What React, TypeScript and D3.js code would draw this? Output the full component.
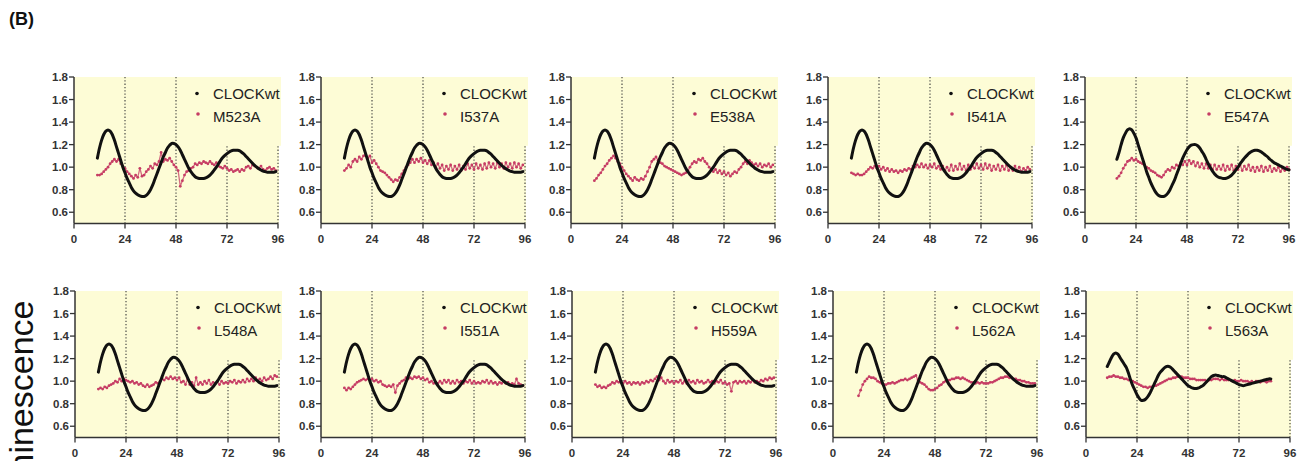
import React from "react";
import * as d3 from "d3";

// ---- data (hours, normalized luminescence) ----
const xTicks = [0, 24, 48, 72, 96];
const yTicks = [0.6, 0.8, 1.0, 1.2, 1.4, 1.6, 1.8];

// CLOCKwt reference trace (panels 1-4 of both rows), hourly from t=11
const clockWtAStart = 11;
const clockWtA = [1.08, 1.17, 1.24, 1.29, 1.32, 1.33, 1.32, 1.29, 1.24, 1.18, 1.12, 1.06, 1.0, 0.95, 0.9, 0.86, 0.82, 0.79, 0.77, 0.755, 0.745, 0.74, 0.74, 0.75, 0.77, 0.8, 0.84, 0.89, 0.94, 0.99, 1.04, 1.09, 1.13, 1.17, 1.195, 1.21, 1.21, 1.2, 1.18, 1.15, 1.11, 1.07, 1.03, 0.99, 0.96, 0.935, 0.915, 0.905, 0.9, 0.9, 0.9, 0.905, 0.915, 0.93, 0.95, 0.975, 1.0, 1.03, 1.06, 1.085, 1.105, 1.12, 1.135, 1.145, 1.15, 1.15, 1.15, 1.145, 1.13, 1.115, 1.095, 1.075, 1.055, 1.035, 1.015, 1.0, 0.985, 0.975, 0.965, 0.96, 0.955, 0.955, 0.955, 0.955, 0.96];
// CLOCKwt trace of the E547A panel, hourly from t=15
const clockWtBStart = 15;
const clockWtB = [1.07, 1.13, 1.2, 1.26, 1.3, 1.33, 1.34, 1.33, 1.3, 1.26, 1.2, 1.14, 1.08, 1.02, 0.96, 0.91, 0.86, 0.82, 0.785, 0.76, 0.745, 0.74, 0.74, 0.75, 0.77, 0.8, 0.84, 0.88, 0.93, 0.98, 1.03, 1.08, 1.12, 1.155, 1.18, 1.195, 1.2, 1.2, 1.19, 1.17, 1.14, 1.11, 1.07, 1.03, 0.995, 0.965, 0.94, 0.92, 0.91, 0.905, 0.9, 0.9, 0.905, 0.915, 0.93, 0.95, 0.975, 1.0, 1.03, 1.055, 1.08, 1.1, 1.12, 1.135, 1.145, 1.15, 1.15, 1.145, 1.135, 1.12, 1.105, 1.09, 1.07, 1.055, 1.04, 1.03, 1.02, 1.01, 1.0, 0.99, 0.98, 0.975];
// CLOCKwt trace of the L563A panel, hourly from t=10
const clockWtCStart = 10;
const clockWtC = [1.13, 1.17, 1.21, 1.24, 1.25, 1.24, 1.21, 1.18, 1.15, 1.12, 1.07, 1.01, 0.96, 0.92, 0.88, 0.85, 0.83, 0.83, 0.84, 0.86, 0.89, 0.93, 0.97, 1.01, 1.05, 1.08, 1.1, 1.12, 1.13, 1.13, 1.12, 1.1, 1.08, 1.06, 1.04, 1.02, 1.0, 0.98, 0.96, 0.95, 0.94, 0.935, 0.935, 0.94, 0.95, 0.96, 0.98, 1.0, 1.02, 1.04, 1.05, 1.055, 1.05, 1.045, 1.04, 1.04, 1.03, 1.02, 1.01, 1.0, 0.99, 0.98, 0.97, 0.965, 0.96, 0.965, 0.97, 0.975, 0.98, 0.985, 0.99, 0.995, 1.0, 1.005, 1.01, 1.015, 1.02, 1.02];

// mutants
const m523aStart = 11;
const m523a = [0.93, 0.93, 0.94, 0.96, 0.98, 1.0, 1.03, 1.05, 1.07, 1.05, 1.07, 1.03, 1.01, 0.99, 0.96, 0.94, 0.92, 0.9, 0.93, 0.91, 0.99, 0.92, 0.93, 0.96, 0.98, 1.01, 0.99, 1.03, 1.02, 1.05, 1.13, 1.05, 1.07, 1.06, 1.08, 1.05, 1.02, 1.0, 0.97, 0.83, 0.88, 0.93, 0.96, 0.97, 0.99, 1.0, 1.03, 1.02, 1.04, 1.03, 1.05, 1.04, 1.03, 1.05, 1.03, 1.02, 1.04, 1.01, 1.0, 0.99, 1.01, 0.99, 0.97, 0.98, 0.96, 0.97, 0.98, 0.96, 0.98, 0.97, 1.0, 1.01, 0.99, 1.02, 1.01, 1.0, 0.99, 1.01, 0.98, 0.97, 0.99, 1.0, 0.98, 0.99, 0.97];
const i537aStart = 11;
const i537a = [0.97, 0.99, 1.02, 1.0, 1.05, 1.07, 1.05, 1.09, 1.07, 1.1, 1.11, 1.08, 1.1, 1.04, 1.06, 1.03, 1.0, 0.97, 0.96, 0.95, 0.93, 0.91, 0.89, 0.87, 0.89, 0.88, 0.91, 0.94, 0.97, 1.0, 1.02, 1.04, 1.07, 1.04, 1.07, 1.05, 1.08, 1.04, 1.06, 1.03, 1.06, 1.02, 1.04, 1.0, 1.03, 0.99, 1.02, 0.97, 1.01, 0.98, 1.02, 0.97, 1.01, 0.98, 1.02, 0.97, 1.01, 0.98, 1.03, 0.99, 1.02, 0.98, 1.03, 0.99, 1.02, 0.98, 1.03, 0.99, 1.04, 1.0, 1.03, 0.99, 1.04, 1.0, 1.03, 0.99, 1.04, 1.0, 1.03, 0.99, 1.04, 1.0, 1.03, 0.99, 1.02];
const e538aStart = 11;
const e538a = [0.88, 0.9, 0.93, 0.95, 0.98, 1.01, 1.03, 1.06, 1.08, 1.1, 1.08, 1.05, 1.03, 1.0, 0.97, 0.94, 0.92, 0.9, 0.88, 0.91, 0.89, 0.88, 0.9, 0.89, 0.92, 0.96, 1.0, 1.05, 1.07, 1.09, 1.06, 1.04, 1.03, 1.01, 1.0, 0.99, 0.98, 0.97, 0.96, 0.95, 0.94, 0.93, 0.94, 0.95, 0.97, 1.0, 1.03, 1.05, 1.04, 1.07, 1.06, 1.08, 1.05, 1.03, 1.0, 0.98, 0.96, 0.98, 0.95, 0.97, 0.94, 0.96, 0.93, 0.95, 0.92, 0.94, 0.96, 0.95, 0.98, 1.0, 1.03, 1.05, 1.03, 1.06, 1.04, 1.02, 1.03, 1.01, 1.03, 1.0, 1.02, 1.01, 1.03, 1.0, 1.02];
const i541aStart = 11;
const i541a = [0.95, 0.94, 0.93, 0.94, 0.93, 0.93, 0.94, 0.96, 0.98, 1.0, 0.99, 1.01, 0.99, 1.01, 0.98, 1.0, 0.97, 0.99, 0.96, 0.98, 0.96, 0.97, 0.95, 0.97, 0.96, 0.98, 0.97, 0.99, 0.98, 1.01, 1.0, 1.02, 1.0, 1.03, 1.0, 1.02, 0.99, 1.02, 1.0, 1.03, 0.99, 1.01, 0.98, 1.01, 0.97, 1.0, 0.97, 1.02, 0.97, 1.01, 0.98, 1.03, 0.98, 1.01, 0.97, 1.02, 0.98, 1.01, 0.99, 1.03, 0.99, 1.02, 0.98, 1.03, 0.99, 1.02, 0.97, 1.01, 0.98, 1.02, 0.97, 1.01, 0.98, 1.02, 0.97, 1.0, 0.97, 1.01, 0.97, 1.0, 0.96, 0.99, 0.97, 1.0, 0.98];
const e547aStart = 15;
const e547a = [0.9, 0.92, 0.95, 0.99, 1.02, 1.05, 1.06, 1.08, 1.06, 1.07, 1.05, 1.04, 1.03, 1.02, 1.0, 0.99, 0.97, 0.96, 0.95, 0.93, 0.92, 0.91, 0.93, 0.96, 0.98, 0.97, 1.0, 0.99, 1.02, 1.01, 1.04, 1.02, 1.05, 1.02, 1.06, 1.03, 1.05, 1.01, 1.04, 1.0, 1.03, 0.99, 1.03, 0.99, 1.02, 0.98, 1.02, 0.98, 1.01, 0.98, 1.02, 0.97, 1.01, 0.98, 1.02, 0.97, 1.01, 0.98, 1.02, 0.97, 1.01, 0.98, 1.02, 0.97, 1.0, 0.96, 1.0, 0.97, 1.01, 0.96, 1.0, 0.97, 1.01, 0.96, 0.99, 0.97, 1.0, 0.96, 0.99, 0.97, 1.0, 0.98];
const l548aStart = 11;
const l548a = [0.93, 0.94, 0.93, 0.95, 0.94, 0.96, 0.97, 0.98, 1.0, 0.99, 1.02, 1.0, 1.02, 1.01, 1.0, 0.99, 1.0, 0.98, 0.99, 0.97, 0.98, 0.96, 0.95, 0.97, 0.95, 0.96, 0.97, 0.99, 0.98, 1.0, 1.02, 1.01, 1.03, 1.02, 1.04, 1.02, 1.03, 1.01, 1.03, 0.99, 1.0, 0.97, 1.02, 0.97, 0.99, 0.96, 1.03, 0.97, 0.99, 0.97, 1.0, 0.98, 1.01, 0.97, 0.99, 0.98, 1.0, 0.97, 1.0, 0.98, 0.99, 0.98, 1.0, 0.99, 1.01, 0.98, 1.0, 0.99, 1.01, 0.99, 1.02, 1.0, 1.02, 1.0, 1.03, 1.01, 1.02, 1.0, 1.03, 1.01, 1.02, 1.04, 1.02, 1.05, 1.04];
const i551aStart = 11;
const i551a = [0.94, 0.92, 0.94, 0.93, 0.95, 0.97, 0.99, 1.0, 1.01, 1.02, 1.01, 1.02, 1.01, 1.02, 1.0, 1.01, 0.99, 1.0, 0.97, 0.96, 0.95, 0.96, 0.95, 0.97, 0.9, 0.96, 0.98, 1.0, 1.01, 1.03, 1.02, 1.03, 1.02, 1.04, 1.03, 1.04, 1.02, 1.03, 1.01, 1.02, 0.99, 1.0, 0.98, 0.99, 0.98, 1.0, 0.98, 1.01, 0.99, 1.01, 0.98, 1.0, 0.98, 1.01, 0.99, 1.0, 0.98, 1.0, 0.99, 1.01, 0.98, 1.0, 0.98, 0.99, 0.98, 1.0, 0.99, 1.01, 0.98, 1.0, 0.98, 0.99, 0.97, 0.99, 0.98, 1.0, 0.98, 0.99, 0.97, 0.98, 0.97, 1.02, 0.98, 0.97, 0.96];
const h559aStart = 11;
const h559a = [0.97, 0.95, 0.96, 0.94, 0.95, 0.94, 0.96, 0.97, 0.99, 0.98, 1.0, 0.99, 1.0, 0.98, 1.0, 0.98, 0.99, 0.97, 0.99, 0.98, 0.99, 0.97, 0.99, 0.98, 1.0, 0.99, 1.01, 1.0, 1.02, 1.04, 1.01, 1.03, 1.0, 0.98, 1.01, 0.99, 1.0, 0.98, 1.0, 0.99, 1.01, 0.98, 1.0, 0.98, 1.01, 0.99, 1.0, 0.98, 1.01, 0.99, 1.0, 0.98, 0.99, 1.01, 0.99, 1.0, 0.98, 1.0, 0.99, 1.01, 0.98, 0.99, 0.97, 0.98, 0.91, 0.99, 1.0, 0.98, 1.0, 0.99, 1.0, 0.98, 1.0, 0.99, 1.01, 0.99, 1.0, 0.99, 1.01, 1.0, 1.02, 1.01, 1.03, 1.02, 1.03];
const l562aStart = 12;
const l562a = [0.87, 0.92, 0.97, 1.0, 1.02, 1.04, 1.03, 1.03, 1.02, 1.0, 0.99, 0.98, 0.97, 0.97, 0.98, 0.98, 0.99, 0.98, 0.99, 1.0, 1.01, 1.01, 1.02, 1.01, 1.02, 1.03, 1.04, 1.05, 1.01, 0.99, 0.98, 0.97, 0.95, 0.93, 0.92, 0.92, 0.93, 0.94, 0.96, 0.97, 0.99, 1.0, 1.01, 1.01, 1.02, 1.02, 1.03, 1.03, 1.02, 1.03, 1.02, 1.01, 1.0, 0.99, 0.99, 0.98, 0.99, 0.98, 0.99, 0.98, 0.98, 0.98, 0.99, 0.99, 1.0, 1.01, 1.02, 1.03, 1.03, 1.04, 1.04, 1.03, 1.03, 1.02, 1.02, 1.01, 1.01, 1.0, 1.0, 0.99, 0.99, 0.98, 0.98, 0.98];
const l563aStart = 10;
const l563a = [1.03, 1.04, 1.04, 1.05, 1.04, 1.04, 1.03, 1.03, 1.02, 1.02, 1.01, 1.01, 1.0, 0.99, 0.98, 0.97, 0.96, 0.95, 0.95, 0.94, 0.95, 0.95, 0.96, 0.96, 0.97, 0.98, 0.99, 1.0, 1.01, 1.02, 1.02, 1.03, 1.03, 1.04, 1.04, 1.04, 1.03, 1.03, 1.03, 1.02, 1.02, 1.02, 1.01, 1.01, 1.01, 1.01, 1.01, 1.0, 1.01, 1.01, 1.02, 1.02, 1.02, 1.01, 1.02, 1.01, 1.01, 1.01, 1.01, 1.0, 1.01, 1.0, 1.0, 1.01, 1.0, 1.0, 1.0, 0.99, 1.0, 0.99, 1.0, 1.0, 0.99, 1.0, 1.0, 0.99, 1.0, 1.0];

const mutantNames = ["M523A", "I537A", "E538A", "I541A", "E547A", "L548A", "I551A", "H559A", "L562A", "L563A"];

// ---- layout (pixels) ----
const W = 204;
const H = 146.5;
const rowTops = [77, 291];
const colLefts = [
  [74, 321, 571, 828, 1085],
  [75, 321, 572, 833, 1086],
];

const FONT = "'Liberation Sans', Arial, Helvetica, sans-serif";
const RED = "#c63c64";
const BLACK = "#111";
const BG = "#fdfcd6";

type Series = { start: number; values: number[] };
const toPoints = (s: Series) => s.values.map((v, i) => [s.start + i, v] as [number, number]);

const panels = [
  { name: mutantNames[0], wt: { start: clockWtAStart, values: clockWtA }, mut: { start: m523aStart, values: m523a } },
  { name: mutantNames[1], wt: { start: clockWtAStart, values: clockWtA }, mut: { start: i537aStart, values: i537a } },
  { name: mutantNames[2], wt: { start: clockWtAStart, values: clockWtA }, mut: { start: e538aStart, values: e538a } },
  { name: mutantNames[3], wt: { start: clockWtAStart, values: clockWtA }, mut: { start: i541aStart, values: i541a } },
  { name: mutantNames[4], wt: { start: clockWtBStart, values: clockWtB }, mut: { start: e547aStart, values: e547a } },
  { name: mutantNames[5], wt: { start: clockWtAStart, values: clockWtA }, mut: { start: l548aStart, values: l548a } },
  { name: mutantNames[6], wt: { start: clockWtAStart, values: clockWtA }, mut: { start: i551aStart, values: i551a } },
  { name: mutantNames[7], wt: { start: clockWtAStart, values: clockWtA }, mut: { start: h559aStart, values: h559a } },
  { name: mutantNames[8], wt: { start: clockWtAStart, values: clockWtA }, mut: { start: l562aStart, values: l562a } },
  { name: mutantNames[9], wt: { start: clockWtCStart, values: clockWtC }, mut: { start: l563aStart, values: l563a } },
];

function Panel({ idx }: { idx: number }) {
  const p = panels[idx];
  const row = Math.floor(idx / 5);
  const col = idx % 5;
  const left = colLefts[row][col];
  const top = rowTops[row];
  const x = d3.scaleLinear().domain([0, 96]).range([left, left + W]);
  const y = d3.scaleLinear().domain([0.5, 1.8]).range([top + H, top]);
  const wtPts = toPoints(p.wt);
  const mutPts = toPoints(p.mut);
  const wtLine = d3
    .line<[number, number]>()
    .x((d) => x(d[0]))
    .y((d) => y(d[1]))
    .curve(d3.curveCatmullRom);
  const mutLine = d3
    .line<[number, number]>()
    .x((d) => x(d[0]))
    .y((d) => y(d[1]));
  const legX = left + 123;
  return (
    <g>
      <rect x={x(0)} y={y(1.8)} width={x(96) - x(0) + 1} height={y(0.5) - y(1.8)} fill={BG} />
      {xTicks.slice(1).map((t) => (
        <line key={t} x1={x(t)} x2={x(t)} y1={y(1.8)} y2={y(0.5)} stroke="#3a3a3a" strokeWidth={1.1} strokeDasharray="1.3,2" />
      ))}
      <rect x={legX - 8} y={y(1.8)} width={x(96) - legX + 11} height={y(1.19) - y(1.8)} fill={BG} />
      <path d={mutLine(mutPts) || ""} fill="none" stroke={RED} strokeWidth={1.3} strokeOpacity={0.75} />
      {mutPts.map((d, i) => (
        <circle key={i} cx={x(d[0])} cy={y(d[1])} r={1.4} fill={RED} />
      ))}
      <path d={wtLine(wtPts) || ""} fill="none" stroke={BLACK} strokeWidth={3} strokeLinecap="round" />
      {/* axes */}
      <line x1={x(0)} x2={x(0)} y1={y(1.8)} y2={y(0.5)} stroke="#333" strokeWidth={1.5} />
      <line x1={x(0)} x2={x(96)} y1={y(0.5)} y2={y(0.5)} stroke="#333" strokeWidth={1.5} />
      {yTicks.map((t) => (
        <g key={t}>
          <line x1={x(0) - 5} x2={x(0)} y1={y(t)} y2={y(t)} stroke="#333" strokeWidth={1.3} />
          <text x={x(0) - 6} y={y(t)} dy="0.36em" textAnchor="end" fontSize={11.5} fontWeight="bold" fill="#333" fontFamily={FONT}>
            {t.toFixed(1)}
          </text>
        </g>
      ))}
      {xTicks.map((t) => (
        <g key={t}>
          <line x1={x(t)} x2={x(t)} y1={y(0.5)} y2={y(0.5) + 5} stroke="#333" strokeWidth={1.3} />
          <text x={x(t)} y={y(0.5) + 19.5} textAnchor="middle" fontSize={11.5} fontWeight="bold" fill="#333" fontFamily={FONT}>
            {t}
          </text>
        </g>
      ))}
      {/* legend */}
      <circle cx={legX} cy={top + 16.5} r={1.8} fill={BLACK} />
      <text x={legX + 16} y={top + 22} fontSize={15} fill="#222" fontFamily={FONT}>
        CLOCKwt
      </text>
      <circle cx={legX + 1} cy={top + 37} r={1.8} fill={RED} />
      <text x={legX + 16} y={top + 44.5} fontSize={15} fill="#222" fontFamily={FONT}>
        {p.name}
      </text>
    </g>
  );
}

export default function App() {
  return (
    <svg
      width={1309}
      height={461}
      style={{ position: "absolute", left: 0, top: 0, background: "#fff" }}
      xmlns="http://www.w3.org/2000/svg"
    >
      <rect x={0} y={0} width={1309} height={461} fill="#fff" />
      <text x={9} y={25} fontSize={18} fontWeight="bold" fill="#111" fontFamily={FONT}>
        (B)
      </text>
      <text
        transform="translate(33,300.5) rotate(-90)"
        textAnchor="end"
        fontSize={34}
        fill="#111"
        fontFamily={FONT}
      >
        Luminescence
      </text>
      {panels.map((_, i) => (
        <Panel key={i} idx={i} />
      ))}
    </svg>
  );
}
